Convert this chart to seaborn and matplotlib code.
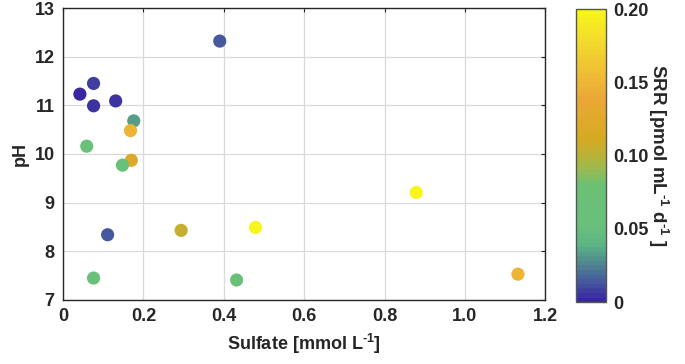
import numpy as np
import pandas as pd
import seaborn as sns
import matplotlib.pyplot as plt
from matplotlib.colors import LinearSegmentedColormap, Normalize
from matplotlib.cm import ScalarMappable


# -----------------------------
# DATA
# -----------------------------
sulfate = [0.042, 0.076, 0.076, 0.131, 0.390, 0.176, 0.168, 0.059, 0.170,
           0.148, 0.111, 0.294, 0.479, 0.076, 0.432, 0.879, 1.132]
ph = [11.23, 11.45, 10.99, 11.09, 12.32, 10.68, 10.48, 10.16, 9.87,
      9.77, 8.34, 8.43, 8.49, 7.45, 7.41, 9.21, 7.53]
srr = [0.003, 0.008, 0.006, 0.004, 0.014, 0.032, 0.150, 0.060, 0.120,
       0.060, 0.014, 0.105, 0.200, 0.060, 0.060, 0.198, 0.150]

df = pd.DataFrame({"Sulfate": sulfate, "pH": ph, "SRR": srr})

# custom colour ramp
cmap = LinearSegmentedColormap.from_list("srr", [
    (0.000, "#3a26a0"),
    (0.060, "#4656a0"),
    (0.130, "#4f8a8e"),
    (0.190, "#5cb384"),
    (0.250, "#68c07c"),
    (0.400, "#6cc074"),
    (0.470, "#a8b846"),
    (0.550, "#d4aa22"),
    (0.700, "#eca836"),
    (0.780, "#efbc35"),
    (0.900, "#f3dc2c"),
    (1.000, "#f8f51c"),
], N=64)
norm = Normalize(0, 0.2)

# -----------------------------
# PLOT
# -----------------------------
sns.set_style("white")
plt.rcParams["font.family"] = ["Liberation Sans", "DejaVu Sans"]
plt.rcParams["font.weight"] = "bold"
plt.rcParams["mathtext.fontset"] = "custom"
plt.rcParams["mathtext.rm"] = "Liberation Sans:bold"
plt.rcParams["mathtext.bf"] = "Liberation Sans:bold"

fig = plt.figure(figsize=(6.85, 3.64), dpi=100)
ax = fig.add_axes([0.092, 0.176, 0.704, 0.802])
cax = fig.add_axes([0.841, 0.170, 0.044, 0.805])

sns.scatterplot(data=df, x="Sulfate", y="pH", hue="SRR", palette=cmap,
                hue_norm=norm, s=90, linewidth=0, legend=False, ax=ax,
                zorder=3)

ax.set_xlim(0, 1.2)
ax.set_ylim(7, 13)
ax.set_xticks(np.arange(0, 1.21, 0.2))
ax.set_xticklabels(["0", "0.2", "0.4", "0.6", "0.8", "1.0", "1.2"])
ax.set_yticks(range(7, 14))
ax.grid(True, color="#d9d9d9", linewidth=0.9)
ax.tick_params(direction="in", length=3, top=True, right=True,
               labelsize=13, width=0.8, pad=6)
for sp in ax.spines.values():
    sp.set_linewidth(1.0)
    sp.set_color("#262626")

sup = "$^{\\mathrm{\u2010}\\mathrm{1}}$"
ax.set_xlabel("Sulfate [mmol L" + sup + "]", fontsize=13,
              fontweight="bold", labelpad=5)
ax.set_ylabel("pH", fontsize=13, fontweight="bold", labelpad=4)

cb = fig.colorbar(ScalarMappable(norm=norm, cmap=cmap), cax=cax)
cb.set_ticks([0, 0.05, 0.10, 0.15, 0.20])
cb.set_ticklabels(["0", "0.05", "0.10", "0.15", "0.20"])
cb.ax.tick_params(direction="in", length=3, labelsize=13, width=0.8, pad=5)
cb.outline.set_linewidth(1.0)
cb.outline.set_edgecolor("#555555")
cb.set_label("SRR [pmol mL" + sup + " d" + sup + " ]", fontsize=13.5,
             fontweight="bold", rotation=-90, labelpad=16)

fig.savefig("out.png", dpi=100)
